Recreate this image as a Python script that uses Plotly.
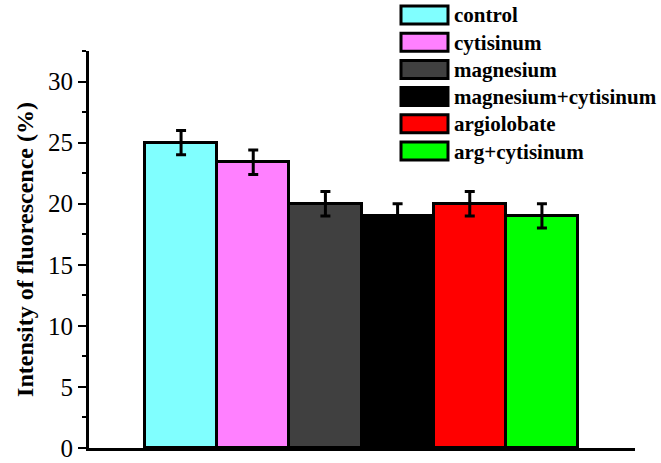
import plotly.graph_objects as go

categories = ["control", "cytisinum", "magnesium", "magnesium+cytisinum", "argiolobate", "arg+cytisinum"]
values = [25.0, 23.4, 20.0, 19.0, 20.0, 19.0]
errors = [1.0, 1.0, 1.0, 1.0, 1.0, 1.0]
colors = ["#80FFFF", "#FF80FF", "#404040", "#000000", "#FF0000", "#00FF00"]
y_ticks = [0, 5, 10, 15, 20, 25, 30]

FONT = "Times New Roman, Liberation Serif, DejaVu Serif, serif"

W, H = 661, 463
ML, MR, MT, MB = 89, 26, 51, 15
PW, PH = W - ML - MR, H - MT - MB

positions = list(range(1, len(categories) + 1))

fig = go.Figure()
fig.add_trace(go.Bar(
    x=positions, y=values, width=1.0,
    marker=dict(color=colors, line=dict(color="black", width=3)),
    error_y=dict(type="data", array=errors, visible=True, color="black", thickness=3, width=5),
    showlegend=False,
))

# custom legend (wide swatches like the original)
def px2paper(px, py):
    return (px - ML) / PW, (H - MB - py) / PH

shapes = []
annotations = []
row_y0 = 15
row_dy = 27.2
for i, (name, col) in enumerate(zip(categories, colors)):
    cy = row_y0 + i * row_dy
    x0, y0 = px2paper(401, cy - 9)
    x1, y1 = px2paper(448, cy + 9)
    shapes.append(dict(type="rect", xref="paper", yref="paper", x0=x0, x1=x1, y0=y1, y1=y0,
                       fillcolor=col, line=dict(color="black", width=3), layer="above"))
    tx, ty = px2paper(452, cy + 0.5)
    annotations.append(dict(xref="paper", yref="paper", x=tx, y=ty, text="<b>%s</b>" % name,
                            showarrow=False, xanchor="left", yanchor="middle",
                            font=dict(family=FONT, size=21, color="black")))

fig.update_layout(
    width=W, height=H,
    margin=dict(l=ML, r=MR, t=MT, b=MB, autoexpand=False),
    plot_bgcolor="white", paper_bgcolor="white",
    font=dict(family=FONT),
    shapes=shapes, annotations=annotations,
    bargap=0,
    xaxis=dict(range=[0.5 - 56 / 72.2, 6.5 + 57 / 72.2], showticklabels=False, ticks="",
               showgrid=False, zeroline=False, showline=True, linecolor="black", linewidth=3,
               automargin=False),
    yaxis=dict(range=[0, 32.5], tickvals=y_ticks, ticktext=[str(v) for v in y_ticks],
               ticks="outside", ticklen=8, tickwidth=2, tickcolor="black",
               ticklabeloverflow="allow", automargin=False,
               minor=dict(dtick=2.5, tick0=0, ticks="outside", ticklen=4, tickwidth=2, tickcolor="black"),
               showgrid=False, zeroline=False, showline=True, linecolor="black", linewidth=3,
               tickfont=dict(family=FONT, size=25, color="black"),
               title=dict(text="<b>Intensity of fluorescence (%)</b>", standoff=8,
                          font=dict(family=FONT, size=24, color="black"))),
)

fig.write_html("out.html")
